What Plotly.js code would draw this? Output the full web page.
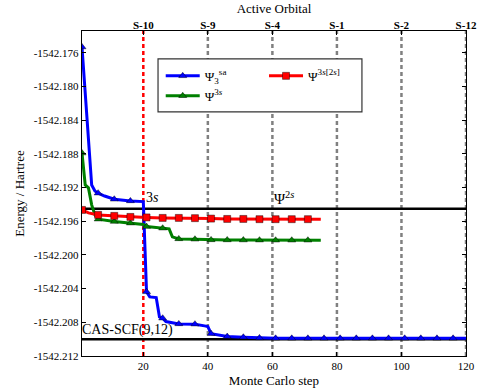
<!DOCTYPE html>
<html>
<head>
<meta charset="utf-8">
<script src="https://cdn.plot.ly/plotly-3.0.1.min.js"></script>
<style>html,body{margin:0;padding:0;background:#fff}</style>
</head>
<body>
<div id="plot" style="width:480px;height:390px"></div>
<script>
// Psi_3^sa (blau)
const saSteps = [1, 2, 3, 4, 5, 6, 8, 11, 16, 20, 21, 22, 24, 25, 26, 27, 31, 36, 39, 40, 41, 46, 51, 56, 61, 66, 71, 76, 81, 86, 91, 96, 101, 106, 111, 116, 120];
const saEnergy = [-1542.1753, -1542.1811, -1542.1869, -1542.1917, -1542.1924, -1542.19266, -1542.1930, -1542.19338, -1542.19358, -1542.19366,
  -1542.20438, -1542.20498, -1542.20506, -1542.20735, -1542.20751, -1542.20791, -1542.20819, -1542.20822, -1542.20842, -1542.2085,
  -1542.20935, -1542.20969, -1542.20977, -1542.20985, -1542.2099, -1542.2099, -1542.2099, -1542.2099, -1542.2099, -1542.2099,
  -1542.2099, -1542.2099, -1542.2099, -1542.2099, -1542.2099, -1542.2099, -1542.2099];

// Psi^3s[2s] (rot)
const s2sSteps = [1, 3, 6, 11, 16, 21, 26, 31, 36, 41, 46, 51, 56, 61, 66, 71, 75];
const s2sEnergy = [-1542.19465, -1542.1950, -1542.19524, -1542.19536, -1542.19548, -1542.19554, -1542.1956, -1542.1956, -1542.19563,
  -1542.19568, -1542.19572, -1542.19572, -1542.19575, -1542.19575, -1542.19575, -1542.19575, -1542.19577];

// Psi^3s (gruen)
const s3Steps = [1, 2, 3, 4, 5, 6, 11, 16, 20, 21, 26, 28, 29, 31, 36, 41, 46, 51, 56, 61, 66, 71, 75];
const s3Energy = [-1542.1879, -1542.19168, -1542.19203, -1542.19405, -1542.19524, -1542.19575, -1542.19603, -1542.19622, -1542.19637,
  -1542.19663, -1542.19682, -1542.1969, -1542.19785, -1542.19809, -1542.19813, -1542.19821, -1542.19822, -1542.19823, -1542.19824,
  -1542.19825, -1542.19825, -1542.19825, -1542.19825];

const psi2s = -1542.1945;
const casScf = -1542.2100;

const orbitalSteps = [20, 40, 60, 80, 100, 120];
const orbitalLabels = ['S-10', 'S-9', 'S-4', 'S-1', 'S-2', 'S-12'];
const yTicks = [-1542.176, -1542.180, -1542.184, -1542.188, -1542.192, -1542.196, -1542.200, -1542.204, -1542.208, -1542.212];

const schrift = '"Liberation Serif", "Times New Roman", serif';

function markerPunkte(steps, energy) {
  const xs = [], ys = [];
  steps.forEach((s, i) => {
    if ((s - 1) % 5 === 0) { xs.push(s); ys.push(energy[i]); }
  });
  return { xs, ys };
}

function serie(steps, energy, farbe, symbol, name, legende) {
  const m = markerPunkte(steps, energy);
  const marker = { symbol: symbol, size: 7, color: farbe, line: { color: 'rgba(0,0,0,0.55)', width: 0.8 } };
  return [
    { x: steps, y: energy, mode: 'lines', line: { color: farbe, width: 3 }, showlegend: false, hoverinfo: 'skip' },
    { x: m.xs, y: m.ys, mode: 'markers', marker: marker, showlegend: false, hoverinfo: 'skip' },
    { x: [null], y: [null], mode: 'lines+markers', line: { color: farbe, width: 3 }, marker: marker, name: name, legend: legende }
  ];
}

const daten = [].concat(
  serie(saSteps, saEnergy, '#0000ff', 'triangle-up', 'Ψ<sub>3</sub><sup>sa</sup>', 'legend'),
  serie(s3Steps, s3Energy, '#008000', 'triangle-up', 'Ψ<sup>3<i>s</i></sup>', 'legend'),
  serie(s2sSteps, s2sEnergy, '#ff0000', 'square', 'Ψ<sup>3<i>s</i>[2<i>s</i>]</sup>', 'legend2'),
  [{ x: [1, 120], y: [null, null], xaxis: 'x2', mode: 'lines', showlegend: false, hoverinfo: 'skip' }]
);

const formen = orbitalSteps.map((s, i) => ({
  type: 'line', xref: 'x', yref: 'paper', x0: s, x1: s, y0: 0, y1: 1, layer: 'below',
  line: { color: i === 0 ? '#ff0000' : '#808080', width: 2.5, dash: '4px,3px' }
}));
[psi2s, casScf].forEach(e => formen.push({
  type: 'line', xref: 'paper', yref: 'y', x0: 0, x1: 1, y0: e, y1: e, layer: 'below',
  line: { color: '#000', width: 2.5 }
}));
formen.push({
  type: 'rect', xref: 'paper', yref: 'paper', x0: 0.198, x1: 0.729, y0: 0.751, y1: 0.914, layer: 'above',
  fillcolor: '#fff', line: { color: '#333', width: 1.2 }
});

const achse = {
  showline: true, linecolor: '#000', linewidth: 1.2, mirror: 'ticks', ticks: 'inside', ticklen: 4,
  tickcolor: '#000', showgrid: false, zeroline: false, tickfont: { family: schrift, size: 11, color: '#000' }
};

const layout = {
  width: 480, height: 390,
  margin: { l: 82, r: 14, t: 31, b: 34 },
  paper_bgcolor: '#fff', plot_bgcolor: '#fff',
  font: { family: schrift, color: '#000' },
  xaxis: Object.assign({}, achse, {
    range: [1, 120], tickvals: orbitalSteps,
    title: { text: 'Monte Carlo step', font: { family: schrift, size: 13 }, standoff: 4 }
  }),
  xaxis2: {
    overlaying: 'x', side: 'top', anchor: 'free', position: 0.991, range: [1, 120], tickvals: orbitalSteps,
    ticktext: orbitalLabels.map(t => '<b>' + t + '</b>'),
    showline: false, showgrid: false, zeroline: false, ticks: 'outside', ticklen: 1, tickcolor: 'rgba(0,0,0,0)',
    tickfont: { family: schrift, size: 11, color: '#000' },
    title: { text: 'Active Orbital', font: { family: schrift, size: 13 }, standoff: 0 }
  },
  yaxis: Object.assign({}, achse, {
    range: [-1542.212, -1542.1734], tickvals: yTicks, ticktext: yTicks.map(v => v.toFixed(3)),
    title: { text: 'Energy / Hartree', font: { family: schrift, size: 13 }, standoff: 6 }
  }),
  shapes: formen,
  legend: { x: 0.205, y: 0.908, xanchor: 'left', yanchor: 'top', bgcolor: 'rgba(0,0,0,0)', borderwidth: 0,
    itemwidth: 34, font: { family: schrift, size: 13 }, tracegroupgap: 0 },
  legend2: { x: 0.474, y: 0.908, xanchor: 'left', yanchor: 'top', bgcolor: 'rgba(0,0,0,0)', borderwidth: 0,
    itemwidth: 34, font: { family: schrift, size: 13 } },
  annotations: [
    { x: 20, y: psi2s, xref: 'x', yref: 'y', text: '3<i>s</i>', showarrow: false, xanchor: 'left', yanchor: 'bottom',
      xshift: 1, yshift: 2, font: { family: schrift, size: 14 } },
    { x: 60, y: psi2s, xref: 'x', yref: 'y', text: 'Ψ<sup>2<i>s</i></sup>', showarrow: false, xanchor: 'left', yanchor: 'bottom',
      xshift: 0, yshift: 0, font: { family: schrift, size: 15 } },
    { x: 0, y: casScf, xref: 'paper', yref: 'y', text: 'CAS-SCF(9,12)', showarrow: false, xanchor: 'left', yanchor: 'bottom',
      xshift: -2, yshift: -1, font: { family: schrift, size: 14 } }
  ],
  showlegend: true
};

Plotly.newPlot('plot', daten, layout, { staticPlot: true });
</script>
</body>
</html>
